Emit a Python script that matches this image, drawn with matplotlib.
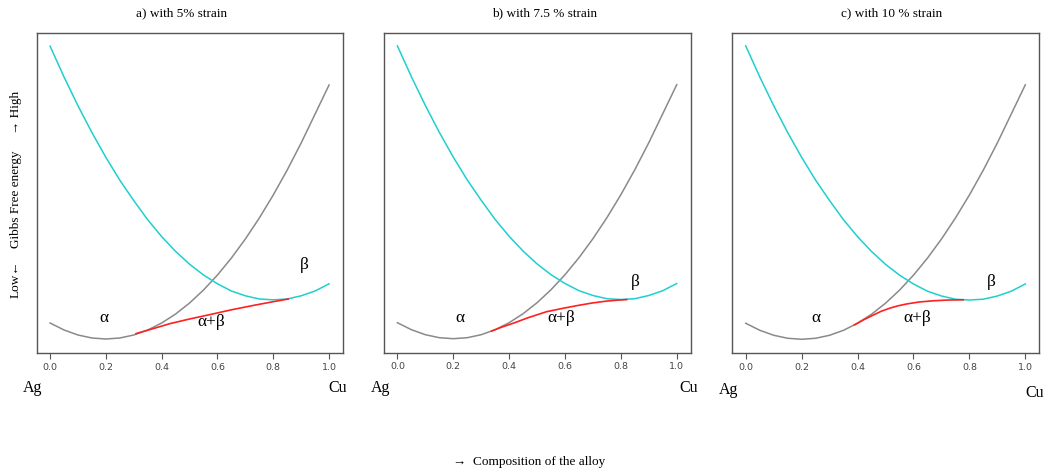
import numpy as np
import matplotlib
matplotlib.use("Agg")
import matplotlib.pyplot as plt
from matplotlib import font_manager

plt.rcParams['font.family'] = ['Liberation Serif', 'DejaVu Serif']

# composition (fraction Cu) and free energy curves
x = [0.0, 0.05, 0.1, 0.15, 0.2, 0.25, 0.3, 0.35, 0.4, 0.45, 0.5,
     0.55, 0.6, 0.65, 0.7, 0.75, 0.8, 0.85, 0.9, 0.95, 1.0]
g_alpha = [0.4, 0.225, 0.1, 0.025, 0.0, 0.025, 0.1, 0.225, 0.4, 0.625, 0.9,
           1.225, 1.6, 2.025, 2.5, 3.025, 3.6, 4.225, 4.9, 5.625, 6.35]
g_beta = [7.32, 6.55, 5.83, 5.16, 4.54, 3.97, 3.46, 2.98, 2.56, 2.19, 1.87,
          1.60, 1.38, 1.20, 1.08, 1.00, 0.98, 1.00, 1.08, 1.20, 1.38]

# alpha+beta (red) segment for each strain
red_x_a = [0.308, 0.37, 0.43, 0.50, 0.573, 0.65, 0.729, 0.79, 0.854]
red_y_a = [0.135, 0.26, 0.385, 0.50, 0.61, 0.73, 0.84, 0.92, 1.0]
red_x_b = [0.337, 0.37, 0.414, 0.47, 0.534, 0.60, 0.653, 0.70, 0.749, 0.79, 0.821]
red_y_b = [0.19, 0.28, 0.385, 0.53, 0.675, 0.77, 0.84, 0.895, 0.94, 0.965, 0.978]
red_x_c = [0.389, 0.42, 0.455, 0.485, 0.515, 0.545, 0.575, 0.62, 0.67, 0.72, 0.778]
red_y_c = [0.36, 0.48, 0.60, 0.70, 0.775, 0.835, 0.88, 0.93, 0.96, 0.978, 0.985]

titles = ["a) with 5% strain", "b) with 7.5 % strain", "c) with 10 % strain"]
reds = [(red_x_a, red_y_a), (red_x_b, red_y_b), (red_x_c, red_y_c)]

# narrow sans for tick labels if present
names = {f.name for f in font_manager.fontManager.ttflist}
tick_font = 'Liberation Sans Narrow' if 'Liberation Sans Narrow' in names else 'DejaVu Sans'
tick_size = 7.5 if tick_font == 'Liberation Sans Narrow' else 6.8

W, H = 1045, 472
fig = plt.figure(figsize=(W / 100, H / 100), dpi=100)

# axes boxes in pixels: left, right, top, bottom
boxes = [(36.7, 343.0, 33.0, 353.0), (384.0, 690.7, 32.7, 352.7), (732.3, 1039.3, 32.7, 353.3)]
title_x = [181.7, 545.0, 891.7]
lab_pos = [
    [(0.194, 0.52), (0.577, 0.42), (0.91, 1.84)],
    [(0.223, 0.52), (0.586, 0.51), (0.85, 1.42)],
    [(0.25, 0.53), (0.614, 0.53), (0.878, 1.42)],
]
agcu = [((-0.013, -0.109), (0.983, -0.109)),
        ((-0.011, -0.109), (0.995, -0.109)),
        ((-0.013, -0.114), (0.986, -0.124))]

for i in range(3):
    l, r, t, b = boxes[i]
    ax = fig.add_axes([l / W, 1 - b / H, (r - l) / W, (b - t) / H])
    ax.plot(x, g_alpha, color='#8a8a8a', lw=1.1)
    ax.plot(x, g_beta, color='#1fcfcf', lw=1.1)
    ax.plot(reds[i][0], reds[i][1], color='#ff2020', lw=1.2)
    ax.set_xlim(-0.048, 1.05)
    ax.set_ylim(-0.35, 7.65)
    ax.set_yticks([])
    ax.set_xticks([0.0, 0.2, 0.4, 0.6, 0.8, 1.0])
    ax.set_xticklabels(['0.0', '0.2', '0.4', '0.6', '0.8', '1.0'],
                       family=tick_font, fontsize=tick_size, color='#444444')
    ax.tick_params(axis='x', direction='out', length=4, width=0.8, color='#555555', pad=3)
    for s in ax.spines.values():
        s.set_color('#555555')
        s.set_linewidth(1.0)
    (ax1, ay1), (bx1, by1), (cx1, cy1) = lab_pos[i]
    ax.text(ax1, ay1, "α", fontsize=12.5, ha='center', va='center')
    ax.text(bx1, by1, "α+β", fontsize=12.5, ha='center', va='center')
    ax.text(cx1, cy1, "β", fontsize=12.5, ha='center', va='center')
    (agx, agy), (cux, cuy) = agcu[i]
    ax.text(agx, agy, "Ag", transform=ax.transAxes, fontsize=11.5, ha='center', va='center')
    ax.text(cux, cuy, "Cu", transform=ax.transAxes, fontsize=11.5, ha='center', va='center')
    fig.text(title_x[i] / W, 1 - 13.3 / H, titles[i], fontsize=9.5, ha='center', va='center')

# y label pieces
fig.text(16 / W, 1 - 279 / H, "Low←", rotation=90, fontsize=9.5, ha='center', va='center')
fig.text(16 / W, 1 - 199.5 / H, "Gibbs Free energy", rotation=90, fontsize=9.5, ha='center', va='center')
fig.text(16 / W, 1 - 112.5 / H, "→ High", rotation=90, fontsize=9.5, ha='center', va='center')

fig.text(529 / W, 1 - 462 / H, "→  Composition of the alloy", fontsize=9.5, ha='center', va='center')

fig.savefig("out.png", dpi=100)
